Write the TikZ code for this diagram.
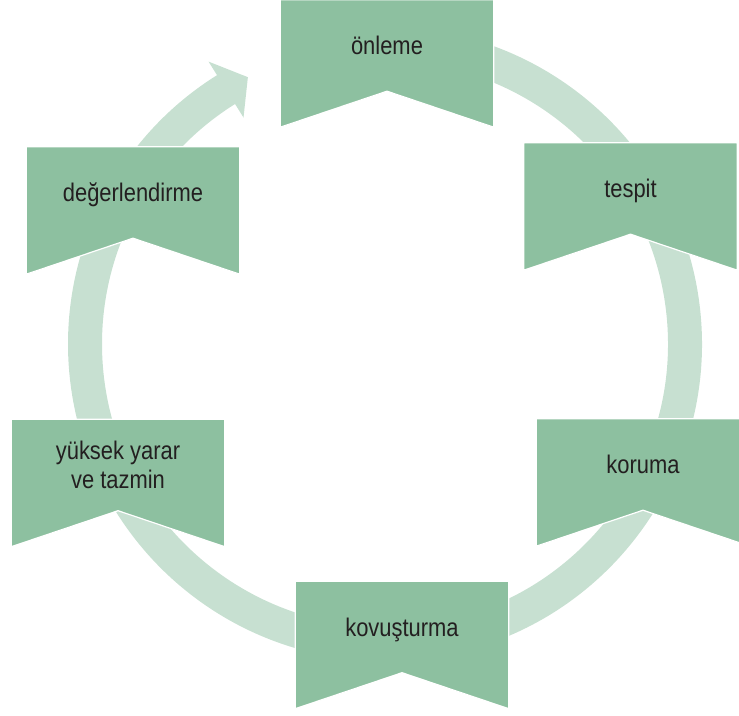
\documentclass[tikz,border=0pt]{standalone}
\usepackage{fontspec}
\setmainfont{Liberation Sans}[FakeStretch=0.86]
\usetikzlibrary{calc}
\definecolor{stagegreen}{RGB}{141,192,160}
\definecolor{ringgreen}{RGB}{199,224,209}
\definecolor{stageink}{RGB}{35,31,32}
\pgfdeclarelayer{ringlayer}
\pgfdeclarelayer{boxlayer}
\pgfsetlayers{ringlayer,boxlayer,main}

\begin{document}
\begin{tikzpicture}[x=1pt, y=1pt,
    stage/.style={minimum width=213pt, minimum height=91pt, inner sep=0pt, align=center, text=stageink, text depth=0pt, font={\fontsize{25.5}{28.5}\selectfont}},
    stageshape/.style={fill=stagegreen, draw=white, line width=1.2pt},
    ringpath/.style={draw=ringgreen, line width=34pt}]
    \useasboundingbox (0,0) rectangle (739,715);
    \coordinate (hub) at (385,371);

    % Six stages, clockwise from the top
    \node[stage] (onleme) at (387,669.5) {önleme};
    \node[stage] (tespit) at (630.5,526.5) {tespit};
    \node[stage] (koruma) at (643,250.5) {koruma};
    \node[stage] (kovus) at (402,88) {kovuşturma};
    \node[stage] (yuksek) at (118,250) {yüksek yarar\\ve tazmin};
    \node[stage] (degerl) at (133,522.5) {değerlendirme};

    % Notched boxes behind the labels
    \begin{pgfonlayer}{boxlayer}
    \foreach \s in {onleme,tespit,koruma,kovus,yuksek,degerl}
        \draw[stageshape] (\s.north west) -- (\s.north east) -- ([yshift=-36pt]\s.south east)
            -- (\s.south) -- ([yshift=-36pt]\s.south west) -- cycle;
    \end{pgfonlayer}

    % Ring and its arrow head
    \begin{pgfonlayer}{ringlayer}
    \draw[ringpath] ($(hub)+(95:300)$) arc[start angle=95, end angle=-238.5, radius=300];
    \fill[ringgreen] ($(hub)+(-238:333)$) -- ($(hub)+(-242.8:300)$) -- ($(hub)+(-238:267)$) -- cycle;
    \end{pgfonlayer}
\end{tikzpicture}
\end{document}
